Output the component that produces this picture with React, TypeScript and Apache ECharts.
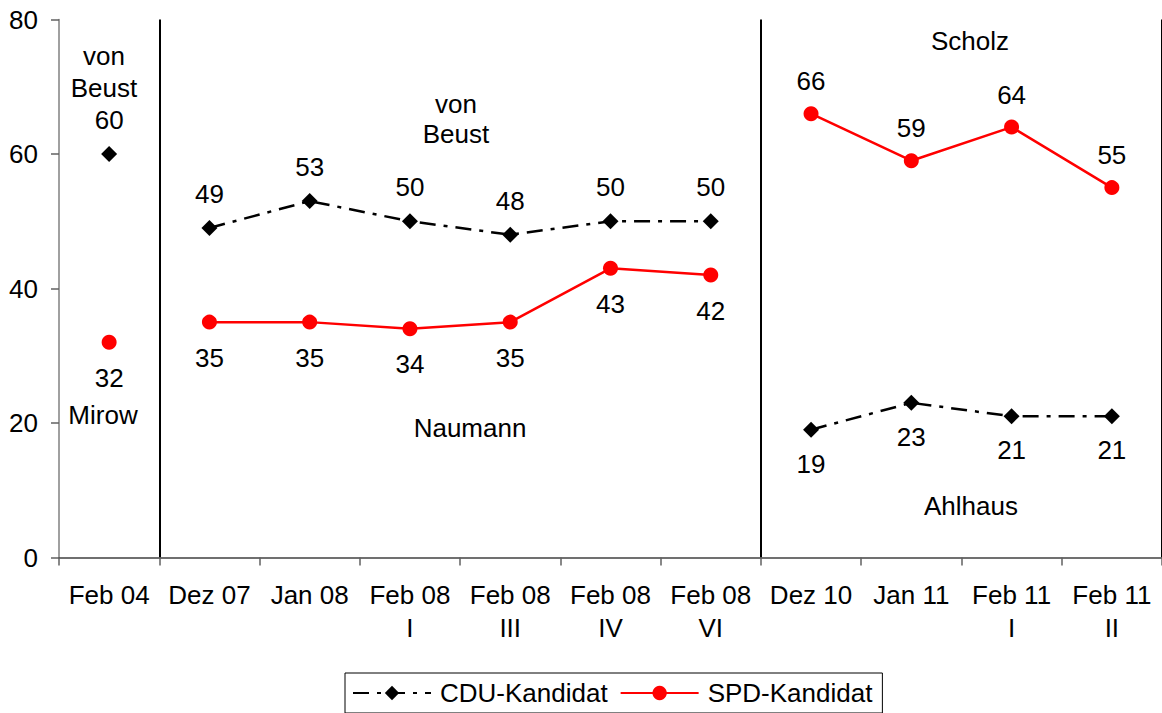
import React, { useEffect, useRef } from "react";
import * as echarts from "echarts";

const categories = [
  "Feb 04",
  "Dez 07",
  "Jan 08",
  "Feb 08\nI",
  "Feb 08\nIII",
  "Feb 08\nIV",
  "Feb 08\nVI",
  "Dez 10",
  "Jan 11",
  "Feb 11\nI",
  "Feb 11\nII",
];
const cduValues = [60, 49, 53, 50, 48, 50, 50, 19, 23, 21, 21];
const spdValues = [32, 35, 35, 34, 35, 43, 42, 66, 59, 64, 55];
// index ranges of the three survey periods (start inclusive, end exclusive)
const periods = [
  [0, 1],
  [1, 7],
  [7, 11],
];
const separatorIndices = [1, 7];
const cduLabelSide = ["top", "top", "bottom"];
const spdLabelSide = ["bottom", "bottom", "top"];
const yTicks = [0, 20, 40, 60, 80];

const FONT = "Liberation Sans, Arial, sans-serif";
const FS = 26;

function periodData(values: number[], range: number[]) {
  return values.map((v, i) => (i >= range[0] && i < range[1] ? v : null));
}

export default function App() {
  const ref = useRef<HTMLDivElement>(null);

  useEffect(() => {
    if (!ref.current) return;
    const chart = echarts.init(ref.current, null, { renderer: "svg" });

    const cduSeries = periods.map((p, k) => ({
      name: "CDU-Kandidat",
      type: "line",
      data: periodData(cduValues, p),
      symbol: "diamond",
      symbolSize: 16,
      connectNulls: false,
      itemStyle: { color: "#000000" },
      lineStyle: { color: "#000000", width: 2.5, type: [16, 8, 4, 8] },
      label: {
        show: true,
        position: cduLabelSide[k],
        distance: 13,
        fontSize: FS,
        fontFamily: FONT,
        color: "#000000",
      },
      z: 3,
    }));

    const spdSeries = periods.map((p, k) => ({
      name: "SPD-Kandidat",
      type: "line",
      data: periodData(spdValues, p),
      symbol: "circle",
      symbolSize: 15,
      connectNulls: false,
      itemStyle: { color: "#ff0000" },
      lineStyle: { color: "#ff0000", width: 2.5 },
      label: {
        show: true,
        position: spdLabelSide[k],
        distance: k === 2 ? 12 : 15,
        fontSize: FS,
        fontFamily: FONT,
        color: "#000000",
      },
      z: 3,
    }));

    const textStyle = (text: string, lineHeight = FS) => ({
      text,
      fontSize: FS,
      fontFamily: FONT,
      fill: "#000000",
      align: "center",
      verticalAlign: "middle",
      lineHeight,
    });

    chart.setOption({
      animation: false,
      backgroundColor: "#ffffff",
      textStyle: { fontFamily: FONT },
      grid: { left: 59, right: -1, top: 19.5, bottom: 155.5, containLabel: false },
      xAxis: {
        type: "category",
        data: categories,
        boundaryGap: true,
        axisLine: { show: true, lineStyle: { color: "#404040", width: 1.5 } },
        axisTick: { show: true, length: 8, lineStyle: { color: "#606060", width: 1.5 } },
        axisLabel: {
          interval: 0,
          margin: 21,
          fontSize: FS,
          fontFamily: FONT,
          color: "#000000",
          lineHeight: 33,
        },
        splitLine: {
          show: true,
          interval: (index: number) => separatorIndices.includes(index),
          lineStyle: { color: "#000000", width: 2 },
        },
      },
      yAxis: {
        type: "value",
        min: yTicks[0],
        max: yTicks[yTicks.length - 1],
        interval: yTicks[1] - yTicks[0],
        axisLine: { show: true, lineStyle: { color: "#808080", width: 1.5 } },
        axisTick: { show: true, length: 8, lineStyle: { color: "#606060", width: 1.5 } },
        axisLabel: { margin: 21, fontSize: FS, fontFamily: FONT, color: "#000000" },
        splitLine: { show: false },
      },
      legend: {
        data: ["CDU-Kandidat", "SPD-Kandidat"],
        left: 345,
        top: 673,
        orient: "horizontal",
        padding: [7, 10, 7, 7],
        itemWidth: 78,
        itemHeight: 18,
        itemGap: 12,
        borderColor: "#000000",
        borderWidth: 1,
        textStyle: { fontSize: FS, fontFamily: FONT, color: "#000000", padding: [0, 0, 0, 4] },
      },
      graphic: [
        { type: "text", x: 104, y: 72, style: textStyle("von\nBeust", 32) },
        { type: "text", x: 456, y: 119, style: textStyle("von\nBeust", 30) },
        { type: "text", x: 103, y: 415, style: textStyle("Mirow") },
        { type: "text", x: 470, y: 428, style: textStyle("Naumann") },
        { type: "text", x: 970, y: 41, style: textStyle("Scholz") },
        { type: "text", x: 971, y: 506, style: textStyle("Ahlhaus") },
      ],
      series: [...cduSeries, ...spdSeries],
    });

    return () => chart.dispose();
  }, []);

  return (
    <div
      ref={ref}
      style={{ position: "absolute", left: 0, top: 0, width: 1162, height: 713, background: "#fff" }}
    />
  );
}
